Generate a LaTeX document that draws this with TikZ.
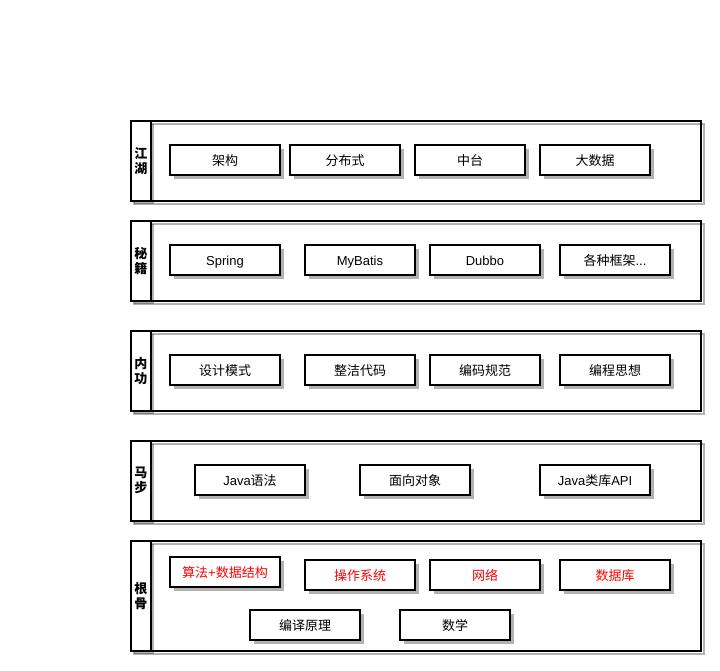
\documentclass[tikz,border=0pt]{standalone}
\usepackage{fontspec}
\setmainfont{Noto Sans CJK SC}
\newfontfamily\lat{Liberation Sans}
\usetikzlibrary{shadows}
\tikzset{
  item/.style={draw=black, line width=1.6pt, fill=white, minimum width=110pt, minimum height=30pt,
    inner sep=0pt, font=\fontsize{13}{15}\selectfont, text height=11.5pt, text depth=0pt,
    drop shadow={shadow xshift=4pt, shadow yshift=-4pt, fill=black, opacity=.3}},
  redtext/.style={text=red},
  hdr/.style={draw=black, line width=1.6pt, fill=white, minimum width=20pt, inner sep=0pt,
    font=\bfseries\fontsize{13}{15}\selectfont, align=center},
  body/.style={draw=black, line width=1.6pt, minimum width=570pt, inner sep=0pt},
  shfill/.style={fill=black, opacity=.3},
  shline/.style={draw=black, line width=1.6pt, opacity=.3},
}
\newcommand{\lane}[5]{% name, top, bottom, text1, text2
  \fill[shfill] (134,#2+4) rectangle (154,#3+4);
  \draw[shline] (134,#2+4) rectangle (704,#3+4);
  \node[body, minimum height={#3-#2}, anchor=north west] (#1) at (130,#2) {};
  \node[hdr, minimum height={#3-#2}, anchor=north west] (#1h) at (130,#2) {#4\\#5};
}
\begin{document}
\begin{tikzpicture}[x=1pt,y=-1pt]
\useasboundingbox (0,0) rectangle (720,670);
\lane{L1}{120}{200}{江}{湖}
\lane{L2}{220}{300}{秘}{籍}
\lane{L3}{330}{410}{内}{功}
\lane{L4}{440}{520}{马}{步}
\lane{L5}{540}{650}{根}{骨}
% row 1
\node[item] (a1) at (225,160) {架构};
\node[item] (a2) at (345,160) {分布式};
\node[item] (a3) at (470,160) {中台};
\node[item] (a4) at (595,160) {大数据};
% row 2
\node[item] (b1) at (225,260) {\lat Spring};
\node[item] (b2) at (360,260) {\lat MyBatis};
\node[item] (b3) at (485,260) {\lat Dubbo};
\node[item] (b4) at (615,260) {各种框架{\lat ...}};
% row 3
\node[item] (c1) at (225,370) {设计模式};
\node[item] (c2) at (360,370) {整洁代码};
\node[item] (c3) at (485,370) {编码规范};
\node[item] (c4) at (615,370) {编程思想};
% row 4
\node[item] (d1) at (250,480) {{\lat Java}语法};
\node[item] (d2) at (415,480) {面向对象};
\node[item] (d3) at (595,480) {{\lat Java}类库{\lat API}};
% row 5
\node[item, redtext] (e1) at (225,572) {算法{\lat +}数据结构};
\node[item, redtext] (e2) at (360,575) {操作系统};
\node[item, redtext] (e3) at (485,575) {网络};
\node[item, redtext] (e4) at (615,575) {数据库};
\node[item] (e5) at (305,625) {编译原理};
\node[item] (e6) at (455,625) {数学};
\end{tikzpicture}
\end{document}
